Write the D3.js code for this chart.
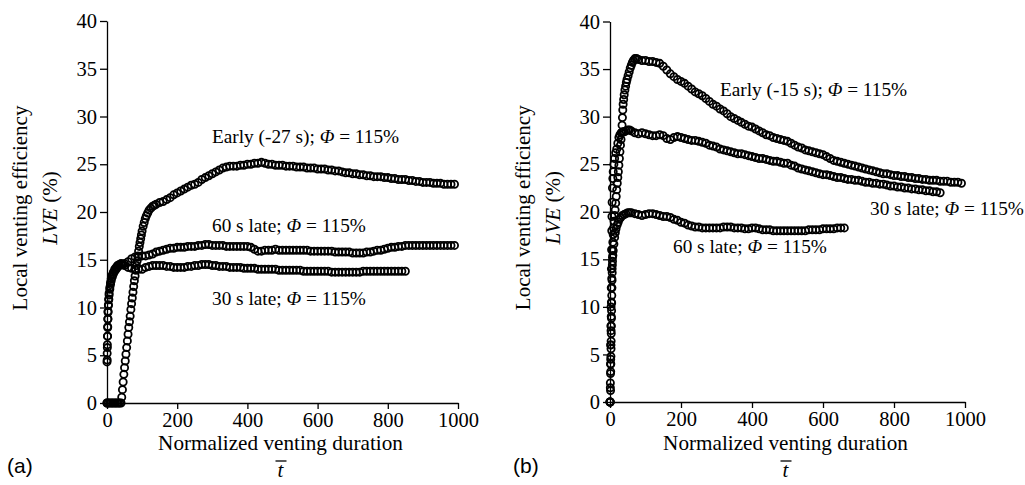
<!DOCTYPE html>
<html>
<head>
<meta charset="utf-8">
<script src="https://cdn.jsdelivr.net/npm/d3@7"></script>
<style>
  body { margin: 0; background: #fff; }
</style>
</head>
<body>
<svg id="chart" width="1025" height="485"></svg>
<script>
// tick values (same on both panels)
const tTicks = [0, 200, 400, 600, 800, 1000];
const lveTicks = [0, 5, 10, 15, 20, 25, 30, 35, 40];

// panel (a) series, [normalized time, LVE %]
const earlyA = [[0,0],[4,0],[8,0],[12,0],[16,0],[20,0],[24,0],[28,0],[32,0],[36,0],[40,0],
  [42,0.6],[44,1.4],[46,2.2],[48,3.0],[50,3.7],[52,4.4],[54,5.1],[56,5.8],[58,6.5],[60,7.2],
  [62,7.9],[64,8.5],[66,9.1],[68,9.8],[70,10.4],[72,11.0],[74,11.6],[76,12.2],[78,12.8],[80,13.3],
  [82,13.9],[84,14.4],[86,14.9],[88,15.4],[90,15.9],[92,16.4],[94,16.8],[96,17.2],[98,17.6],[100,18.0],
  [103,18.5],[106,18.9],[109,19.3],[112,19.6],[116,19.9],[120,20.2],[125,20.4],[130,20.6],[135,20.7],
  [140,20.8],[150,21.0],[160,21.1],[170,21.3],[180,21.5],[190,21.8],[200,22.0],[210,22.2],[220,22.4],
  [230,22.6],[240,22.8],[250,22.9],[260,23.1],[270,23.4],[280,23.6],[290,23.8],[300,24.0],[310,24.2],
  [320,24.4],[330,24.6],[340,24.7],[350,24.8],[360,24.8],[370,24.8],[380,24.9],[390,24.9],[400,25.0],
  [410,25.0],[420,25.1],[430,25.1],[440,25.2],[450,25.1],[460,25.0],[470,25.0],[480,24.9],[490,24.9],
  [500,24.9],[510,24.8],[520,24.8],[530,24.8],[540,24.7],[550,24.7],[560,24.7],[570,24.6],[580,24.6],
  [590,24.6],[600,24.5],[610,24.5],[620,24.5],[630,24.4],[640,24.4],[650,24.3],[660,24.3],[670,24.2],
  [680,24.1],[690,24.1],[700,24.0],[710,24.0],[720,23.9],[730,23.9],[740,23.8],[750,23.8],[760,23.7],
  [770,23.7],[780,23.7],[790,23.6],[800,23.6],[810,23.5],[820,23.5],[830,23.4],[840,23.4],[850,23.4],
  [860,23.3],[870,23.3],[880,23.2],[890,23.2],[900,23.1],[910,23.1],[920,23.1],[930,23.0],[940,23.0],
  [950,23.0],[960,22.9],[970,22.9],[980,22.9],[990,22.9]];

const late60A = [[0,4.3],[0.5,5.2],[1,6.1],[1.5,7.0],[2,7.9],[2.5,8.8],[3,9.6],[4,10.3],[5,10.9],[6,11.5],
  [8,12.1],[10,12.6],[12,13.0],[15,13.4],[18,13.7],[22,14.0],[26,14.2],[30,14.4],[35,14.5],[40,14.6],
  [50,14.6],[60,14.8],[70,15.1],[80,15.3],[90,15.3],[100,15.4],[110,15.4],[120,15.5],[130,15.6],[140,15.8],
  [150,15.9],[160,16.0],[170,16.1],[180,16.2],[190,16.2],[200,16.3],[210,16.3],[220,16.3],[230,16.4],
  [240,16.4],[250,16.4],[260,16.5],[270,16.5],[280,16.6],[290,16.6],[300,16.5],[310,16.5],[320,16.5],
  [330,16.5],[340,16.4],[350,16.4],[360,16.4],[370,16.4],[380,16.4],[390,16.4],[400,16.4],[410,16.3],
  [420,16.1],[430,15.9],[440,15.9],[450,16.0],[460,16.0],[470,16.0],[480,16.1],[490,16.0],[500,16.0],
  [510,16.0],[520,16.0],[530,16.0],[540,16.0],[550,16.0],[560,16.0],[570,16.0],[580,15.9],[590,15.9],
  [600,15.9],[610,15.9],[620,15.9],[630,15.9],[640,15.9],[650,15.8],[660,15.8],[670,15.8],[680,15.8],
  [690,15.8],[700,15.7],[710,15.7],[720,15.7],[730,15.7],[740,15.8],[750,15.8],[760,15.9],[770,16.0],
  [780,16.0],[790,16.1],[800,16.2],[810,16.3],[820,16.3],[830,16.4],[840,16.4],[850,16.5],[860,16.5],
  [870,16.5],[880,16.5],[890,16.5],[900,16.5],[910,16.5],[920,16.5],[930,16.5],[940,16.5],[950,16.5],
  [960,16.5],[970,16.5],[980,16.5],[990,16.5]];

const late30A = [[0,0],[0.5,4.5],[1,5.8],[1.5,7.0],[2,8.0],[2.5,8.8],[3,9.5],[4,10.2],[5,10.8],[6,11.3],
  [8,11.9],[10,12.4],[12,12.8],[15,13.2],[18,13.5],[22,13.8],[26,14.0],[30,14.2],[35,14.4],[40,14.5],
  [45,14.5],[50,14.4],[60,14.2],[70,14.1],[80,14.0],[90,14.0],[100,14.0],[110,14.2],[120,14.3],[130,14.4],
  [140,14.4],[150,14.4],[160,14.4],[170,14.3],[180,14.3],[190,14.2],[200,14.2],[210,14.2],[220,14.2],
  [230,14.3],[240,14.3],[250,14.4],[260,14.4],[270,14.5],[280,14.5],[290,14.5],[300,14.4],[310,14.4],
  [320,14.3],[330,14.3],[340,14.3],[350,14.2],[360,14.2],[370,14.2],[380,14.2],[390,14.1],[400,14.1],
  [410,14.1],[420,14.1],[430,14.0],[440,14.0],[450,14.0],[460,14.0],[470,14.0],[480,14.0],[490,13.9],
  [500,13.9],[510,13.9],[520,13.9],[530,13.9],[540,13.9],[550,13.9],[560,13.8],[570,13.8],[580,13.8],
  [590,13.8],[600,13.8],[610,13.8],[620,13.8],[630,13.8],[640,13.7],[650,13.7],[660,13.7],[670,13.7],
  [680,13.7],[690,13.7],[700,13.7],[710,13.7],[720,13.7],[730,13.8],[740,13.8],[750,13.8],[760,13.8],
  [770,13.8],[780,13.8],[790,13.8],[800,13.8],[810,13.8],[820,13.8],[830,13.8],[840,13.8],[850,13.8]];

// panel (b) series
const earlyB = [[0,0],[1,0],[1.5,1.2],[2,3.2],[2.3,4.0],[2.6,4.8],[2.9,5.6],[3.2,6.4],[3.5,7.2],[3.8,8.0],
  [4.1,8.8],[4.4,9.6],[4.7,10.4],[5,11.2],[5.4,12.0],[5.8,12.8],[6.2,13.6],[6.6,14.4],[7,15.2],[7.5,16.0],
  [8,16.8],[9,17.6],[10,18.3],[11.5,19.0],[13,19.6],[14.5,20.2],[16,20.9],[17.5,21.6],[19,22.3],[20.5,23.0],
  [22,23.6],[23.5,24.2],[25,24.9],[26.5,25.6],[28,26.3],[29.5,27.0],[31,27.6],[32.5,28.3],[34,29.1],
  [35,29.9],[36,30.7],[37,31.3],[38.5,31.8],[40,32.3],[42,32.8],[44,33.2],[46,33.6],[48,33.9],[51,34.3],
  [54,34.7],[57,35.1],[60,35.4],[63,35.7],[66,35.9],[70,36.1],[75,36.1],[80,36.0],[90,35.9],[100,35.9],
  [110,35.8],[120,35.8],[130,35.7],[140,35.6],[150,35.3],[160,34.9],[170,34.5],[180,34.2],[190,33.9],
  [200,33.7],[210,33.5],[220,33.2],[230,32.9],[240,32.6],[250,32.4],[260,32.2],[270,31.9],[280,31.6],
  [290,31.3],[300,31.1],[310,30.8],[320,30.6],[330,30.3],[340,30.0],[350,29.8],[360,29.6],[370,29.4],
  [380,29.2],[390,29.0],[400,28.9],[410,28.7],[420,28.5],[430,28.3],[440,28.1],[450,28.0],[460,27.8],
  [470,27.7],[480,27.6],[490,27.5],[500,27.4],[510,27.2],[520,27.0],[530,26.8],[540,26.7],[550,26.5],
  [560,26.4],[570,26.3],[580,26.2],[590,26.1],[600,26.0],[610,25.8],[620,25.6],[630,25.4],[640,25.3],
  [650,25.2],[660,25.1],[670,25.0],[680,24.9],[690,24.8],[700,24.7],[710,24.6],[720,24.5],[730,24.4],
  [740,24.3],[750,24.2],[760,24.1],[770,24.0],[780,24.0],[790,23.9],[800,23.8],[810,23.8],[820,23.7],
  [830,23.7],[840,23.6],[850,23.6],[860,23.5],[870,23.5],[880,23.4],[890,23.4],[900,23.3],[910,23.3],
  [920,23.3],[930,23.2],[940,23.2],[950,23.2],[960,23.1],[970,23.1],[980,23.1],[990,23.0]];

const late30B = [[0,0],[1,2.0],[1.5,4.0],[2,6.0],[2.5,8.0],[3,10.0],[3.5,12.0],[4,14.0],[4.5,16.0],[5,18.0],
  [5.5,19.5],[6,21.0],[7,22.5],[8,23.5],[9,24.2],[11,25.0],[13,25.6],[16,26.2],[19,26.6],[22,27.2],
  [25,27.8],[28,28.1],[32,28.3],[36,28.4],[40,28.4],[45,28.5],[50,28.6],[55,28.6],[60,28.5],[70,28.3],
  [80,28.2],[90,28.3],[100,28.2],[110,28.1],[120,28.0],[130,28.0],[140,28.1],[150,28.0],[160,27.7],
  [170,27.6],[180,27.8],[190,27.9],[200,27.8],[210,27.7],[220,27.6],[230,27.5],[240,27.5],[250,27.4],
  [260,27.3],[270,27.2],[280,27.0],[290,26.9],[300,26.8],[310,26.6],[320,26.5],[330,26.4],[340,26.3],
  [350,26.2],[360,26.1],[370,26.1],[380,26.0],[390,25.9],[400,25.8],[410,25.7],[420,25.6],[430,25.6],
  [440,25.5],[450,25.4],[460,25.3],[470,25.3],[480,25.2],[490,25.1],[500,25.1],[510,24.9],[520,24.8],
  [530,24.6],[540,24.5],[550,24.4],[560,24.3],[570,24.2],[580,24.1],[590,24.0],[600,23.9],[610,23.9],
  [620,23.8],[630,23.7],[640,23.6],[650,23.6],[660,23.5],[670,23.4],[680,23.4],[690,23.3],[700,23.3],
  [710,23.2],[720,23.1],[730,23.1],[740,23.0],[750,23.0],[760,22.9],[770,22.9],[780,22.8],[790,22.7],
  [800,22.7],[810,22.6],[820,22.6],[830,22.5],[840,22.5],[850,22.4],[860,22.4],[870,22.3],[880,22.3],
  [890,22.2],[900,22.2],[910,22.1],[920,22.1],[930,22.0]];

const late60B = [[0,0],[1,1.5],[1.5,3.0],[2,4.5],[2.5,6.0],[3,7.5],[3.5,9.0],[4,10.5],[4.5,12.0],[5,13.0],
  [6,14.0],[7,14.8],[8,15.4],[9,15.9],[11,16.6],[13,17.3],[15,17.8],[17,18.2],[20,18.6],[23,18.9],
  [26,19.2],[30,19.4],[35,19.6],[40,19.7],[45,19.8],[50,19.9],[55,19.9],[60,19.9],[70,19.8],[80,19.7],
  [90,19.6],[100,19.7],[110,19.8],[120,19.8],[130,19.7],[140,19.6],[150,19.5],[160,19.5],[170,19.4],
  [180,19.2],[190,19.1],[200,18.9],[210,18.8],[220,18.6],[230,18.5],[240,18.4],[250,18.4],[260,18.3],
  [270,18.3],[280,18.3],[290,18.3],[300,18.3],[310,18.3],[320,18.4],[330,18.4],[340,18.4],[350,18.3],
  [360,18.3],[370,18.3],[380,18.2],[390,18.2],[400,18.3],[410,18.3],[420,18.2],[430,18.1],[440,18.1],
  [450,18.1],[460,18.0],[470,18.0],[480,18.0],[490,18.0],[500,18.0],[510,18.0],[520,18.0],[530,18.0],
  [540,18.0],[550,18.0],[560,18.1],[570,18.1],[580,18.1],[590,18.1],[600,18.2],[610,18.2],[620,18.2],
  [630,18.2],[640,18.3],[650,18.3],[660,18.3]];

// annotation texts: [before Φ, after Φ]
const notesA = [["Early (-27 s); ", " = 115%"], ["60 s late; ", " = 115%"], ["30 s late; ", " = 115%"]];
const notesB = [["Early (-15 s); ", " = 115%"], ["30 s late; ", " = 115%"], ["60 s late; ", " = 115%"]];

const serif = "'Liberation Serif', 'Times New Roman', serif";
const svg = d3.select("#chart");

// every text element gets an inline font
function txt(sel, size) {
  return sel.style("font-family", serif).style("font-size", size + "px").style("fill", "#000");
}

const panels = [
  {left: 107, right: 458, top: 21, bottom: 403, tag: "(a)", tagX: 7,
   series: [late30A, late60A, earlyA], notes: notesA,
   notePos: [[212, 143], [212, 232], [212, 305]]},
  {left: 610, right: 965, top: 21.5, bottom: 402, tag: "(b)", tagX: 513,
   series: [late60B, late30B, earlyB], notes: notesB,
   notePos: [[720, 96], [870, 215], [673, 253]]}
];

panels.forEach(p => {
  const x = d3.scaleLinear().domain([0, 1000]).range([p.left, p.right]);
  const y = d3.scaleLinear().domain([0, 40]).range([p.bottom, p.top]);

  // axes
  const gy = svg.append("g")
    .attr("transform", `translate(${p.left},0)`)
    .call(d3.axisLeft(y).tickValues(lveTicks).tickFormat(d3.format("d"))
      .tickSize(7).tickSizeOuter(0).tickPadding(3));
  const gx = svg.append("g")
    .attr("transform", `translate(0,${p.bottom})`)
    .call(d3.axisBottom(x).tickValues(tTicks).tickFormat(d3.format("d"))
      .tickSize(6).tickSizeOuter(0).tickPadding(3));

  [gx, gy].forEach(g => {
    g.select(".domain").attr("stroke", "#000").attr("stroke-width", 1.3);
    g.selectAll(".tick line").attr("stroke", "#000").attr("stroke-width", 1.3);
    txt(g.selectAll(".tick text"), 20.5);
  });

  // y axis title, two lines
  const cy = (p.top + p.bottom) / 2 - 4;
  txt(svg.append("text"), 21)
    .attr("transform", `translate(${p.left - 80},${cy}) rotate(-90)`)
    .attr("text-anchor", "middle")
    .text("Local venting efficiency");
  const yt2 = txt(svg.append("text"), 21)
    .attr("transform", `translate(${p.left - 50},${cy}) rotate(-90)`)
    .attr("text-anchor", "middle");
  yt2.append("tspan").style("font-style", "italic").text("LVE");
  yt2.append("tspan").text(" (%)");

  // x axis title with t-bar
  const cx = (p.left + p.right) / 2 - 2;
  txt(svg.append("text"), 21.2)
    .attr("x", cx).attr("y", 450)
    .attr("text-anchor", "middle")
    .text("Normalized venting duration");
  txt(svg.append("text"), 21)
    .attr("x", cx).attr("y", 477)
    .attr("text-anchor", "middle")
    .style("font-style", "italic")
    .text("t");
  svg.append("line")
    .attr("x1", cx - 5).attr("x2", cx + 6)
    .attr("y1", 461).attr("y2", 461)
    .attr("stroke", "#000").attr("stroke-width", 1.3);

  // panel tag
  svg.append("text")
    .attr("x", p.tagX).attr("y", 473)
    .style("font-family", "'Liberation Sans', Arial, sans-serif")
    .style("font-size", "21px")
    .text(p.tag);

  // series as open circle markers
  p.series.forEach(s => {
    svg.append("g").selectAll("circle")
      .data(s)
      .join("circle")
        .attr("cx", d => x(d[0]))
        .attr("cy", d => y(d[1]))
        .attr("r", 3.6)
        .attr("fill", "none")
        .attr("stroke", "#000")
        .attr("stroke-width", 1.8);
  });

  // annotations
  p.notes.forEach((n, i) => {
    const t = txt(svg.append("text"), 19.3)
      .attr("x", p.notePos[i][0]).attr("y", p.notePos[i][1]);
    t.append("tspan").text(n[0]);
    t.append("tspan").style("font-style", "italic").text("\u03A6");
    t.append("tspan").text(n[1]);
  });
});
</script>
</body>
</html>
